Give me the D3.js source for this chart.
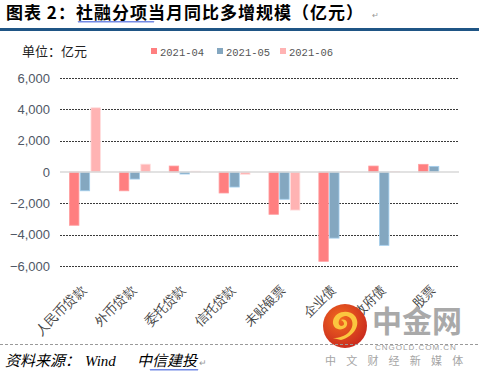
<!DOCTYPE html>
<html>
<head>
<meta charset="utf-8">
<script src="https://cdn.jsdelivr.net/npm/d3@7"></script>
<style>
  body { margin: 0; background: #fff; }
  svg { display: block; }
</style>
</head>
<body>
<div id="content"></div>
<script>
// chart data
const categories = ["人民币贷款", "外币贷款", "委托贷款", "信托贷款", "未贴银票", "企业债", "政府债", "股票"];
const seriesNames = ["2021-04", "2021-05", "2021-06"];
const apr = [-3400, -1200, 380, -1340, -2700, -5700, 380, 490];
const may = [-1200, -450, -130, -960, -1740, -4220, -4680, 360];
const jun = [4100, 500, 50, -150, -2430, 30, 30, 0];
const yTicks = [-6000, -4000, -2000, 0, 2000, 4000, 6000];
const colors = ["#ff7f80", "#84a7c0", "#ffb3b3"];

const width = 479, height = 376;
const svg = d3.select("#content").append("svg")
    .attr("width", width)
    .attr("height", height)
    .style("font-family", "'Noto Sans CJK SC', 'Liberation Sans', sans-serif");

// title
svg.append("text")
    .attr("x", 6)
    .attr("y", 19)
    .attr("font-size", 17)
    .attr("font-weight", "bold")
    .attr("letter-spacing", 1)
    .attr("fill", "#000")
    .text("图表 2：社融分项当月同比多增规模（亿元）");

// wavy underline helper
function wavy(x0, x1, y) {
    let p = "M" + x0 + "," + y;
    for (let x = x0; x < x1; x += 2) {
        p += " L" + (x + 1) + "," + (y + 1.5) + " L" + (x + 2) + "," + y;
    }
    svg.append("path").attr("d", p).attr("fill", "none")
        .attr("stroke", "#3a5bd9").attr("stroke-width", 0.8);
}
wavy(78, 153, 21);

svg.append("text").attr("x", 372).attr("y", 18).attr("font-size", 8)
    .attr("fill", "#999").text("↵");

svg.append("rect")
    .attr("x", 0).attr("y", 28)
    .attr("width", width).attr("height", 3)
    .attr("fill", "#1f5585");

// unit + legend
svg.append("text")
    .attr("x", 22).attr("y", 56)
    .attr("font-size", 13)
    .attr("fill", "#222")
    .text("单位：亿元");

const legendX = [151, 217, 280];
seriesNames.forEach((name, i) => {
    svg.append("rect")
        .attr("x", legendX[i]).attr("y", 48)
        .attr("width", 6).attr("height", 6)
        .attr("fill", colors[i]);
    svg.append("text")
        .attr("x", legendX[i] + 9).attr("y", 56)
        .attr("font-size", 10.5)
        .attr("font-family", "'Liberation Mono', monospace")
        .attr("fill", "#555")
        .text(name);
});

// scales
const x0 = d3.scaleBand()
    .domain(categories)
    .range([60, 459])
    .paddingInner(0.38)
    .paddingOuter(0.19);

const x1 = d3.scaleBand()
    .domain(seriesNames)
    .range([0, x0.bandwidth()])
    .paddingInner(0.12);

const yScale = d3.scaleLinear()
    .domain([-6000, 6000])
    .range([266, 78]);

// gridlines
svg.append("g")
    .selectAll("line")
    .data(yTicks.filter(d => d !== 0))
    .enter()
    .append("line")
    .attr("x1", 60).attr("x2", 459)
    .attr("y1", d => Math.round(yScale(d)) + 0.5)
    .attr("y2", d => Math.round(yScale(d)) + 0.5)
    .attr("stroke", "#3a3a3a")
    .attr("stroke-width", 1)
    .attr("stroke-dasharray", "2,1");

// y axis labels
const yAxis = d3.axisLeft(yScale)
    .tickValues(yTicks)
    .tickFormat(d3.format(","))
    .tickSize(0)
    .tickPadding(10);

const yg = svg.append("g")
    .attr("transform", "translate(60,0)")
    .call(yAxis);
yg.select(".domain").remove();
yg.selectAll("text")
    .attr("font-size", 13)
    .attr("font-family", "'Liberation Sans', Arial, sans-serif")
    .attr("fill", "#4f5866");

// bars
const rows = categories.map((c, i) => ({ cat: c, vals: [apr[i], may[i], jun[i]] }));

svg.append("g")
    .selectAll("g")
    .data(rows)
    .enter()
    .append("g")
    .attr("transform", d => "translate(" + x0(d.cat) + ",0)")
    .selectAll("rect")
    .data(d => d.vals.map((v, i) => ({ s: seriesNames[i], v: v, i: i })))
    .enter()
    .append("rect")
    .attr("x", d => x1(d.s))
    .attr("y", d => Math.min(yScale(d.v), yScale(0)))
    .attr("width", x1.bandwidth())
    .attr("height", d => Math.abs(yScale(d.v) - yScale(0)))
    .attr("fill", d => colors[d.i])
    .attr("stroke", d => d3.color(colors[d.i]).brighter(0.6))
    .attr("stroke-width", 0.8);

// zero line
svg.append("line")
    .attr("x1", 60).attr("x2", 459)
    .attr("y1", yScale(0)).attr("y2", yScale(0))
    .attr("stroke", "#d9d9d9")
    .attr("stroke-width", 1.5);

// x axis labels
const xAxis = d3.axisBottom(x0).tickSize(0).tickPadding(0);
const xg = svg.append("g")
    .attr("transform", "translate(0,284)")
    .call(xAxis);
xg.select(".domain").remove();
xg.selectAll("text")
    .attr("font-size", 13)
    .attr("fill", "#444")
    .attr("text-anchor", "end")
    .attr("dy", "0.7em")
    .attr("transform", "translate(" + (x0.bandwidth() / 2 - 20) + ",0) rotate(-45)");

// watermark
const logo = svg.append("g").attr("transform", "translate(345,326)");
const grad = svg.append("defs").append("radialGradient")
    .attr("id", "lg").attr("cx", "40%").attr("cy", "35%").attr("r", "70%");
grad.append("stop").attr("offset", "0%").attr("stop-color", "#f26a1f");
grad.append("stop").attr("offset", "100%").attr("stop-color", "#c8281e");
logo.append("circle").attr("r", 22).attr("fill", "url(#lg)");
logo.append("path")
    .attr("d", "M-4,14 C10,10 16,-2 10,-10 C4,-17 -10,-15 -12,-5 C-13,3 -4,6 1,1 C4,-3 1,-8 -4,-6 C0,-4 0,0 -4,0 C-8,-1 -7,-9 0,-10 C8,-10 10,0 4,6 C0,10 -6,12 -12,12 Z")
    .attr("fill", "#fbc63f");

svg.append("text")
    .attr("x", 372).attr("y", 332)
    .attr("font-size", 30)
    .attr("font-weight", "bold")
    .attr("fill", "#a9a9a9")
    .text("中金网");

// footer dashed line
svg.append("line")
    .attr("x1", 0).attr("x2", width)
    .attr("y1", 344.5).attr("y2", 344.5)
    .attr("stroke", "#9a9a9a")
    .attr("stroke-dasharray", "3,2");

svg.append("text")
    .attr("x", 375).attr("y", 350)
    .attr("font-size", 8)
    .attr("font-family", "'Liberation Sans', Arial, sans-serif")
    .attr("fill", "#a0a0a0")
    .attr("letter-spacing", 1)
    .text("CNGOLD.COM.CN");

svg.append("text")
    .attr("x", 325).attr("y", 365)
    .attr("font-size", 11)
    .attr("fill", "#a5a5a5")
    .attr("letter-spacing", 10.2)
    .text("中文财经新媒体");

// source
const src = svg.append("g")
    .attr("font-size", 15)
    .attr("font-style", "italic")
    .attr("fill", "#000");
src.append("text").attr("x", 5).attr("y", 366).text("资料来源：");
src.append("text").attr("x", 85).attr("y", 366)
    .attr("font-family", "'Liberation Serif', serif").text("Wind");
src.append("text").attr("x", 137).attr("y", 366).text("中信建投");
wavy(150, 197, 369);
svg.append("text").attr("x", 199).attr("y", 366).attr("font-size", 9)
    .attr("fill", "#999").text("↵");
</script>
</body>
</html>
